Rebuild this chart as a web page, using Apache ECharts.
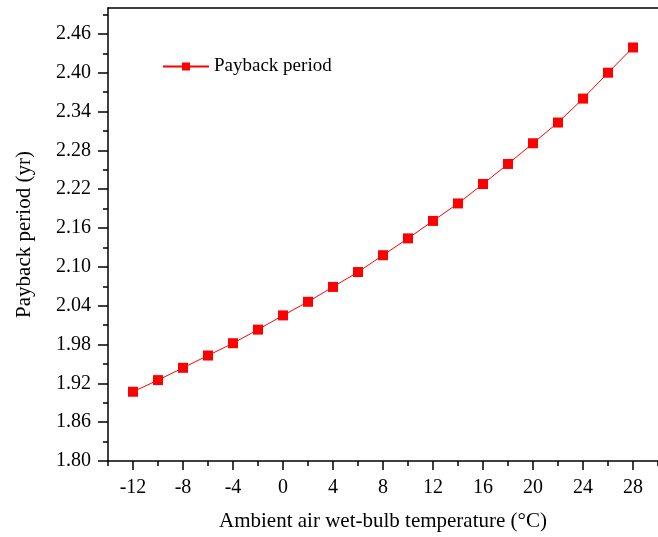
<!DOCTYPE html>
<html><head><meta charset="utf-8">
<script src="https://cdn.jsdelivr.net/npm/echarts@6/dist/echarts.min.js"></script>
<style>html,body{margin:0;padding:0;background:#fff}#c{width:658px;height:537px}</style>
</head><body><div id="c"></div>
<script>
const temps = [-12,-10,-8,-6,-4,-2,0,2,4,6,8,10,12,14,16,18,20,22,24,26,28];
const payback = [1.907,1.925,1.944,1.963,1.982,2.003,2.025,2.046,2.069,2.092,2.118,2.144,2.171,2.198,2.228,2.259,2.291,2.323,2.360,2.400,2.439];
const xLabels = [-12,-8,-4,0,4,8,12,16,20,24,28];
const yLabels = [1.80,1.86,1.92,1.98,2.04,2.10,2.16,2.22,2.28,2.34,2.40,2.46];
const yMinor = [1.83,1.89,1.95,2.01,2.07,2.13,2.19,2.25,2.31,2.37,2.43,2.49];
const seriesName = 'Payback period';
const xTitle = 'Ambient air wet-bulb temperature (\u00B0C)';
const yTitle = 'Payback period (yr)';

const F = 'Liberation Serif, Times New Roman, serif';
const axisLine = {show:true, onZero:false, lineStyle:{color:'#000', width:1.5}};
const chart = echarts.init(document.getElementById('c'));
chart.setOption({
  animation:false,
  grid:{left:108, top:8, bottom:76, right:-10.5},
  legend:{data:[seriesName], left:157, top:52, itemWidth:46, itemHeight:10, itemGap:6,
    textStyle:{fontFamily:F, fontSize:19, color:'#000'}},
  xAxis:[
    {type:'value', min:-14, max:30, interval:2, position:'bottom',
     axisLine:axisLine, splitLine:{show:false},
     axisTick:{show:true, length:5, lineStyle:{color:'#000', width:1.5}},
     axisLabel:{show:false}},
    {type:'value', min:-14, max:30, position:'bottom',
     axisLine:{show:false}, splitLine:{show:false},
     axisTick:{show:true, length:9, customValues:xLabels, lineStyle:{color:'#000', width:1.5}},
     axisLabel:{show:true, customValues:xLabels, margin:17, fontFamily:F, fontSize:20, color:'#000'},
     name:xTitle, nameLocation:'middle', nameGap:50,
     nameTextStyle:{fontFamily:F, fontSize:21, color:'#000'}},
    {type:'value', min:-14, max:30, position:'top',
     axisLine:axisLine, axisTick:{show:false}, axisLabel:{show:false}, splitLine:{show:false}}
  ],
  yAxis:[
    {type:'value', min:1.80, max:2.50, position:'left',
     axisLine:axisLine, splitLine:{show:false},
     axisTick:{show:true, length:10, customValues:yLabels, lineStyle:{color:'#000', width:1.5}},
     axisLabel:{show:true, customValues:yLabels, margin:17, fontFamily:F, fontSize:20, color:'#000',
       formatter:v=>Number(v).toFixed(2)},
     name:yTitle, nameLocation:'middle', nameGap:73,
     nameTextStyle:{fontFamily:F, fontSize:21, color:'#000'}},
    {type:'value', min:1.80, max:2.50, position:'left',
     axisLine:{show:false, onZero:false}, splitLine:{show:false},
     axisTick:{show:true, length:5, customValues:yMinor, lineStyle:{color:'#000', width:1.5}},
     axisLabel:{show:false}}
  ],
  series:[{
    name:seriesName, type:'line', xAxisIndex:0, yAxisIndex:0,
    data:temps.map((t,i)=>[t,payback[i]]),
    symbol:'rect', symbolSize:10,
    lineStyle:{color:'#ff0000', width:1},
    itemStyle:{color:'#ff0000'}
  }]
});
</script></body></html>
